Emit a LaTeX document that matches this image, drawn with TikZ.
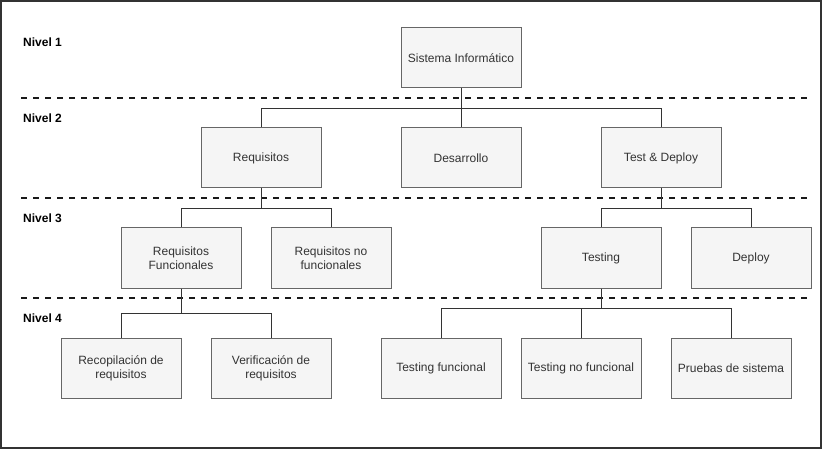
\documentclass[tikz,border=0pt]{standalone}
\usepackage{fontspec}
\setmainfont{Liberation Sans}
\usepackage{tikz}
\definecolor{box_fill}{RGB}{245, 245, 245}
\definecolor{box_line}{RGB}{102, 102, 102}
\definecolor{box_text}{RGB}{51, 51, 51}
\tikzstyle{bx}=[rectangle,fill=box_fill,draw=box_line,line width=1pt,
  minimum width=120pt,minimum height=60pt,inner sep=2pt,align=center,
  text=box_text,font=\fontsize{12}{14}\selectfont]
\tikzstyle{lvl}=[anchor=west,inner sep=0pt,font=\fontsize{12}{14}\selectfont\bfseries]
\tikzstyle{sep}=[line width=2pt,dash pattern=on 6pt off 6pt,color=black!90]
\tikzstyle{lnk}=[line width=1pt,color=box_text]

\begin{document}
\begin{tikzpicture}[x=1pt,y=-1pt]
    \useasboundingbox (0,0) rectangle (822,449);
    \draw [line width=2pt,color=black!80] (1,1) rectangle (821,448);
    \node [style=lvl] (n1) at (23,42) {Nivel 1};
    \node [style=lvl] (n2) at (23,118) {Nivel 2};
    \node [style=lvl] (n3) at (23,218) {Nivel 3};
    \node [style=lvl] (n4) at (23,318) {Nivel 4};
    \draw [style=sep] (21,98) to (808,98);
    \draw [style=sep] (21,198) to (808,198);
    \draw [style=sep] (21,298) to (808,298);
    \node [style=bx] (sis) at (461,58) {Sistema Informático};
    \node [style=bx] (req) at (261,158) {Requisitos};
    \node [style=bx] (des) at (461,158) {Desarrollo};
    \node [style=bx] (tyd) at (661,158) {Test \& Deploy};
    \node [style=bx] (rf) at (181,258) {Requisitos\\Funcionales};
    \node [style=bx] (rnf) at (331,258) {Requisitos no\\funcionales};
    \node [style=bx] (tst) at (601,258) {Testing};
    \node [style=bx] (dep) at (751,258) {Deploy};
    \node [style=bx] (rec) at (121,368) {Recopilación de\\requisitos};
    \node [style=bx] (ver) at (271,368) {Verificación de\\requisitos};
    \node [style=bx] (tf) at (441,368) {Testing funcional};
    \node [style=bx] (tnf) at (581,368) {Testing no funcional};
    \node [style=bx] (ps) at (731,368) {Pruebas de sistema};
    \draw [style=lnk] (sis.south) -- ++(0,20) -| (req.north);
    \draw [style=lnk] (sis.south) -- (des.north);
    \draw [style=lnk] (sis.south) -- ++(0,20) -| (tyd.north);
    \draw [style=lnk] (req.south) -- ++(0,20) -| (rf.north);
    \draw [style=lnk] (req.south) -- ++(0,20) -| (rnf.north);
    \draw [style=lnk] (tyd.south) -- ++(0,20) -| (tst.north);
    \draw [style=lnk] (tyd.south) -- ++(0,20) -| (dep.north);
    \draw [style=lnk] (rf.south) -- ++(0,25) -| (rec.north);
    \draw [style=lnk] (rf.south) -- ++(0,25) -| (ver.north);
    \draw [style=lnk] (tst.south) -- ++(0,20) -| (tf.north);
    \draw [style=lnk] (tst.south) -- ++(0,20) -| (tnf.north);
    \draw [style=lnk] (tst.south) -- ++(0,20) -| (ps.north);
  \end{tikzpicture}
\end{document}
